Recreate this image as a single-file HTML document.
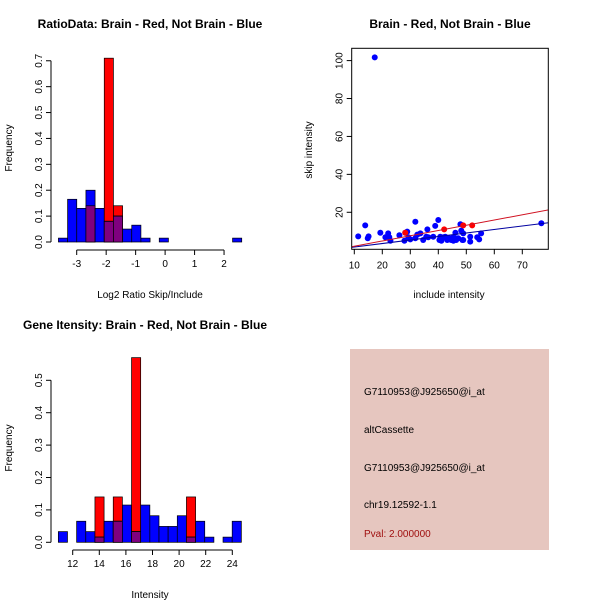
<!DOCTYPE html>
<html><head><meta charset="utf-8"><style>
body{margin:0;background:#fff;}
svg{display:block;font-family:"Liberation Sans",sans-serif;}
</style></head><body>
<svg id="s" width="600" height="600" viewBox="0 0 600 600">
<rect width="600" height="600" fill="#fff"/>
<g id="g1"></g>
<g id="g2"></g>
<g id="g3"></g>
<g>
<rect x="350" y="349" width="199" height="201" fill="#e6c6bf"/>
<g font-size="10" fill="#000">
<text x="364" y="395">G7110953@J925650@i_at</text>
<text x="364" y="433">altCassette</text>
<text x="364" y="471">G7110953@J925650@i_at</text>
<text x="364" y="508">chr19.12592-1.1</text>
<text x="364" y="537" fill="#a01010">Pval: 2.000000</text>
</g></g>
</svg>
<script>
// Plot 1 data
const h1Start=-3.62, h1Width=0.311;
const h1Blue=[0.015,0.165,0.13,0.2,0.13,0.08,0.1,0.05,0.065,0.015,0,0.015,0,0,0,0,0,0,0,0.015];
const h1Red=[0,0,0,0.14,0,0.71,0.14,0,0,0,0,0,0,0,0,0,0,0,0,0];
const h1XTicks=[-3,-2,-1,0,1,2];
const h1YTicks=[0,0.1,0.2,0.3,0.4,0.5,0.6,0.7];
// Plot 2 data
const blueX=[11.4,13.9,14.8,15.1,17.3,19.3,21.1,22.1,22.5,22.9,26.1,27.9,28.2,28.9,29.3,30,31.8,31.8,32.5,33.6,34.6,35.7,36.1,36.4,38.2,38.9,40,40.4,40.7,41.1,41.8,42.5,43.2,43.9,44.6,45.4,46.1,46.4,47.1,47.9,48.2,48.6,48.9,51.4,51.4,53.9,54.6,55.3,76.8,48.9,45.4];
const blueY=[7.3,13.1,6.3,7.3,101.7,9.2,6.8,8.9,6.8,5.0,7.9,5.0,9.2,9.8,6.8,5.7,6.3,15.0,8.2,8.9,5.4,7.1,11.0,6.8,7.1,12.8,15.9,5.4,7.1,5.0,6.8,7.1,5.4,6.3,5.4,6.8,9.2,5.4,6.3,13.7,10.3,5.4,8.9,7.1,4.5,6.8,5.7,8.9,14.2,5.4,5.0];
const redX=[28.2,42.1,48.9,52.1];
const redY=[9.2,11.0,13.1,13.1];
const redFit=[-0.65,0.276], blueFit=[-0.18,0.185];
const s2XTicks=[10,20,30,40,50,60,70];
const s2YTicks=[20,40,60,80,100];
// Plot 3 data
const h3Start=10.92, h3Width=0.688;
const h3Blue=[0.033,0,0.065,0.033,0.016,0.065,0.065,0.115,0.033,0.115,0.082,0.049,0.049,0.082,0.016,0.065,0.016,0,0.016,0.065];
const h3Red=[0,0,0,0,0.14,0,0.14,0,0.57,0,0,0,0,0,0.14,0,0,0,0,0];
const h3XTicks=[12,14,16,18,20,22,24];
const h3YTicks=[0,0.1,0.2,0.3,0.4,0.5];

const NS="http://www.w3.org/2000/svg";
function mk(p,t,a){const e=document.createElementNS(NS,t);for(const k in a)e.setAttribute(k,a[k]);p.appendChild(e);return e;}
function txt(p,x,y,s,a){const e=mk(p,'text',Object.assign({x:x,y:y},a||{}));e.textContent=s;return e;}

function hist(g,o){
  const sx=v=>o.x0+(v-o.v0)*o.kx, sy=v=>o.y0-v*o.ky;
  for(let i=0;i<o.blue.length;i++){
    const l=sx(o.start+i*o.w), r=sx(o.start+(i+1)*o.w);
    const b=o.blue[i], rd=o.red[i];
    if(rd>0){const e=mk(g,'rect',{x:l,y:sy(rd),width:r-l,height:sy(0)-sy(rd),fill:'#ff0000',stroke:'#000','stroke-width':0.7});
      }
    if(b>0){const e=mk(g,'rect',{x:l,y:sy(b),width:r-l,height:sy(0)-sy(b),fill:'#0000ff',stroke:'#000','stroke-width':0.7});
      }
    const m=Math.min(b,rd);
    if(m>0){const e=mk(g,'rect',{x:l,y:sy(m),width:r-l,height:sy(0)-sy(m),fill:'#7f007f',stroke:'#000','stroke-width':0.7});
      }
    if(rd>b&&b>0){mk(g,'line',{x1:l,x2:r,y1:sy(b),y2:sy(b),stroke:'#000','stroke-width':0.7});}
  }
  const ax=mk(g,'g',{stroke:'#000','stroke-width':1,fill:'none'});
  
  const xt=o.xticks;
  mk(ax,'line',{x1:sx(xt[0]),x2:sx(xt[xt.length-1]),y1:o.xaxY,y2:o.xaxY});
  xt.forEach(t=>{mk(ax,'line',{x1:sx(t),x2:sx(t),y1:o.xaxY,y2:o.xaxY+5});
    const e=txt(g,sx(t),o.xaxY+17,String(t),{'font-size':10,'text-anchor':'middle'});
    });
  const ay=mk(g,'g',{stroke:'#000','stroke-width':1});
  
  const yt=o.yticks;
  mk(ay,'line',{x1:o.yaxX,x2:o.yaxX,y1:sy(yt[0]),y2:sy(yt[yt.length-1])});
  yt.forEach(t=>{mk(ay,'line',{x1:o.yaxX-5,x2:o.yaxX,y1:sy(t),y2:sy(t)});
    const e=txt(g,0,0,t.toFixed(1),{'font-size':10,'text-anchor':'middle',transform:`translate(${o.yaxX-9},${sy(t)}) rotate(-90)`});
    });
}

// Plot 1
const g1=document.getElementById('g1');
hist(g1,{x0:76.7,v0:-3,kx:29.47,y0:242,ky:258.9,start:h1Start,w:h1Width,blue:h1Blue,red:h1Red,xticks:h1XTicks,yticks:h1YTicks,xaxY:250,yaxX:51});
let t=txt(g1,150,28,'RatioData: Brain - Red, Not Brain - Blue',{'font-size':12,'font-weight':'bold','text-anchor':'middle'});

t=txt(g1,150,298,'Log2 Ratio Skip/Include',{'font-size':10,'text-anchor':'middle'});

t=txt(g1,0,0,'Frequency',{'font-size':10,'text-anchor':'middle',transform:'translate(12,148) rotate(-90)'});


// Plot 3
const g3=document.getElementById('g3');
hist(g3,{x0:72.7,v0:12,kx:13.3,y0:542.3,ky:324,start:h3Start,w:h3Width,blue:h3Blue,red:h3Red,xticks:h3XTicks,yticks:h3YTicks,xaxY:550,yaxX:51});
t=txt(g3,145,329,'Gene Itensity: Brain - Red, Not Brain - Blue',{'font-size':12,'font-weight':'bold','text-anchor':'middle'});

t=txt(g3,150,598,'Intensity',{'font-size':10,'text-anchor':'middle'});

t=txt(g3,0,0,'Frequency',{'font-size':10,'text-anchor':'middle',transform:'translate(12,448) rotate(-90)'});


// Plot 2
const g2=document.getElementById('g2');
const L=351.7,R=548.3,T=48.3,B=249.3;
const px=v=>354.3+(v-10)*2.8, py=v=>250.2-v*1.896;
const cp=mk(g2,'clipPath',{id:'c2'});mk(cp,'rect',{x:L,y:T,width:R-L,height:B-T});
const pts=mk(g2,'g',{'clip-path':'url(#c2)'});
blueX.forEach((x,i)=>{const e=mk(pts,'circle',{cx:px(x),cy:py(blueY[i]),r:3,fill:'#0000ff'});
  });
redX.forEach((x,i)=>{const e=mk(pts,'circle',{cx:px(x),cy:py(redY[i]),r:3,fill:'#ff0000'});
  });
const xa=9,xb=80;
let ln=mk(pts,'line',{x1:px(xa),y1:py(blueFit[0]+blueFit[1]*xa),x2:px(xb),y2:py(blueFit[0]+blueFit[1]*xb),stroke:'#0000a0','stroke-width':1});

ln=mk(pts,'line',{x1:px(xa),y1:py(redFit[0]+redFit[1]*xa),x2:px(xb),y2:py(redFit[0]+redFit[1]*xb),stroke:'#d01020','stroke-width':1});

const box=mk(g2,'rect',{x:L,y:T,width:R-L,height:B-T,fill:'none',stroke:'#000','stroke-width':1});

s2XTicks.forEach(v=>{mk(g2,'line',{x1:px(v),x2:px(v),y1:B,y2:B+5,stroke:'#000'});
  const e=txt(g2,px(v),B+19,String(v),{'font-size':10,'text-anchor':'middle'});
  });
s2YTicks.forEach(v=>{mk(g2,'line',{x1:L-5,x2:L,y1:py(v),y2:py(v),stroke:'#000'});
  const e=txt(g2,0,0,String(v),{'font-size':10,'text-anchor':'middle',transform:`translate(${L-9},${py(v)}) rotate(-90)`});
  });
t=txt(g2,450,28,'Brain - Red, Not Brain - Blue',{'font-size':12,'font-weight':'bold','text-anchor':'middle'});

t=txt(g2,449,298,'include intensity',{'font-size':10,'text-anchor':'middle'});

t=txt(g2,0,0,'skip intensity',{'font-size':10,'text-anchor':'middle',transform:'translate(312,150) rotate(-90)'});

</script>
</body></html>
